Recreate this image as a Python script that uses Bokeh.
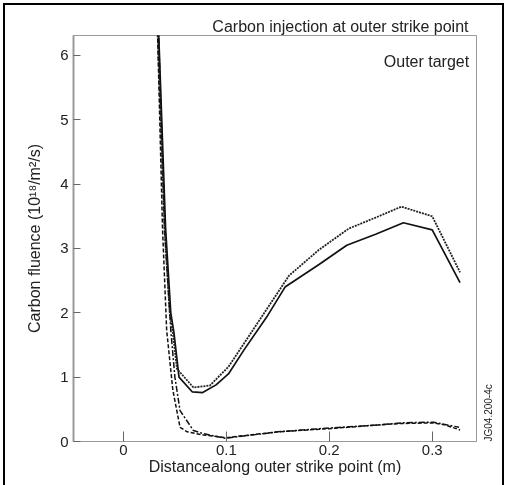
import math
from bokeh.plotting import figure
from bokeh.models import Label, Range1d, FixedTicker, LinearAxis
from bokeh.embed import file_html
from bokeh.resources import INLINE

# ---- data ----
solid_x = [0.034, 0.041, 0.046, 0.049, 0.054, 0.067, 0.077, 0.090, 0.102, 0.117, 0.139, 0.157, 0.190, 0.217, 0.245, 0.272, 0.300, 0.327]
solid_y = [6.45, 3.30, 2.00, 1.70, 1.00, 0.77, 0.76, 0.88, 1.05, 1.42, 1.93, 2.40, 2.75, 3.05, 3.22, 3.40, 3.29, 2.47]

dotted_x = [0.033, 0.040, 0.045, 0.048, 0.052, 0.068, 0.084, 0.102, 0.117, 0.139, 0.161, 0.190, 0.219, 0.245, 0.270, 0.300, 0.327]
dotted_y = [6.45, 3.30, 2.00, 1.70, 1.13, 0.84, 0.87, 1.16, 1.52, 2.05, 2.58, 2.98, 3.31, 3.48, 3.65, 3.50, 2.63]

dashed_x = [0.033, 0.038, 0.042, 0.048, 0.055, 0.062, 0.078, 0.100, 0.150, 0.200, 0.250, 0.270, 0.300, 0.312, 0.327]
dashed_y = [6.45, 3.30, 1.73, 0.80, 0.22, 0.15, 0.10, 0.06, 0.15, 0.20, 0.26, 0.28, 0.29, 0.26, 0.18]

dashdot_x = [0.034, 0.040, 0.046, 0.050, 0.055, 0.068, 0.078, 0.099, 0.150, 0.200, 0.250, 0.270, 0.301, 0.311, 0.326]
dashdot_y = [6.45, 3.30, 1.73, 1.00, 0.48, 0.17, 0.12, 0.05, 0.15, 0.21, 0.26, 0.29, 0.30, 0.27, 0.22]

x_ticks = [0, 0.1, 0.2, 0.3]
x_tick_labels = {0: "0", 0.1: "0.1", 0.2: "0.2", 0.3: "0.3"}
y_ticks = [0, 1, 2, 3, 4, 5, 6]
code_tick = [0.0]
code_text = {0: "JG04.200-4c"}

FONT = "Liberation Sans"
TXT = "#222222"

p = figure(width=497, height=485, output_backend="svg", toolbar_location=None,
           x_range=Range1d(-0.0485, 0.343), y_range=Range1d(0, 6.31),
           min_border_left=68, min_border_right=26, min_border_top=30, min_border_bottom=49,
           title="Carbon injection at outer strike point")
p.styles = {"position": "fixed", "top": "5px", "left": "5px",
            "outline": "2px solid black", "outline-offset": "0px"}

p.title.align = "right"
p.title.offset = 8
p.title.standoff = 2
p.title.text_font = FONT
p.title.text_font_size = "16px"
p.title.text_font_style = "normal"
p.title.text_color = TXT

p.grid.visible = False
p.outline_line_color = "#999999"
p.outline_line_width = 1

p.xaxis.ticker = FixedTicker(ticks=x_ticks)
p.xaxis.major_label_overrides = x_tick_labels
p.yaxis.ticker = FixedTicker(ticks=y_ticks)

for ax in (p.xaxis[0], p.yaxis[0]):
    ax.axis_line_color = "#999999"
    ax.major_tick_line_color = "#666666"
    ax.minor_tick_line_color = None
    ax.major_label_text_font = FONT
    ax.major_label_text_font_size = "15px"
    ax.major_label_text_color = TXT
    ax.axis_label_text_font = FONT
    ax.axis_label_text_font_size = "16px"
    ax.axis_label_text_font_style = "normal"
    ax.axis_label_text_color = TXT

p.yaxis.axis_line_width = 2
p.xaxis.major_tick_in = 10
p.xaxis.major_tick_out = 0
p.yaxis.major_tick_in = 7
p.yaxis.major_tick_out = 0
p.xaxis.major_label_standoff = 3
p.yaxis.major_label_standoff = 5
p.xaxis.axis_label = "Distancealong outer strike point (m)"
p.yaxis.axis_label = "Carbon fluence (10¹⁸/m²/s)"
p.xaxis.axis_label_standoff = 0
p.yaxis.axis_label_standoff = 14

# right-hand code text as a tick-less axis
rax = LinearAxis(ticker=FixedTicker(ticks=code_tick), major_label_overrides=code_text)
rax.axis_line_color = None
rax.major_tick_line_color = None
rax.minor_tick_line_color = None
rax.major_label_orientation = math.pi / 2
rax.major_label_standoff = 6
rax.major_label_text_font = FONT
rax.major_label_text_font_size = "10px"
rax.major_label_text_color = TXT
p.add_layout(rax, "right")

p.line(solid_x, solid_y, line_color="#111111", line_width=1.7)
p.line(dotted_x, dotted_y, line_color="#222222", line_width=1.8, line_dash="2 1")
p.line(dashed_x, dashed_y, line_color="#111111", line_width=1.5, line_dash="4 2")
p.line(dashdot_x, dashdot_y, line_color="#111111", line_width=1.5, line_dash="6 2 2 2")

p.add_layout(Label(x=0.3359, y=5.90, text="Outer target", text_align="right",
                   text_baseline="alphabetic", text_font=FONT, text_font_size="16px",
                   text_color=TXT))

open("out.html", "w").write(file_html(p, INLINE))
